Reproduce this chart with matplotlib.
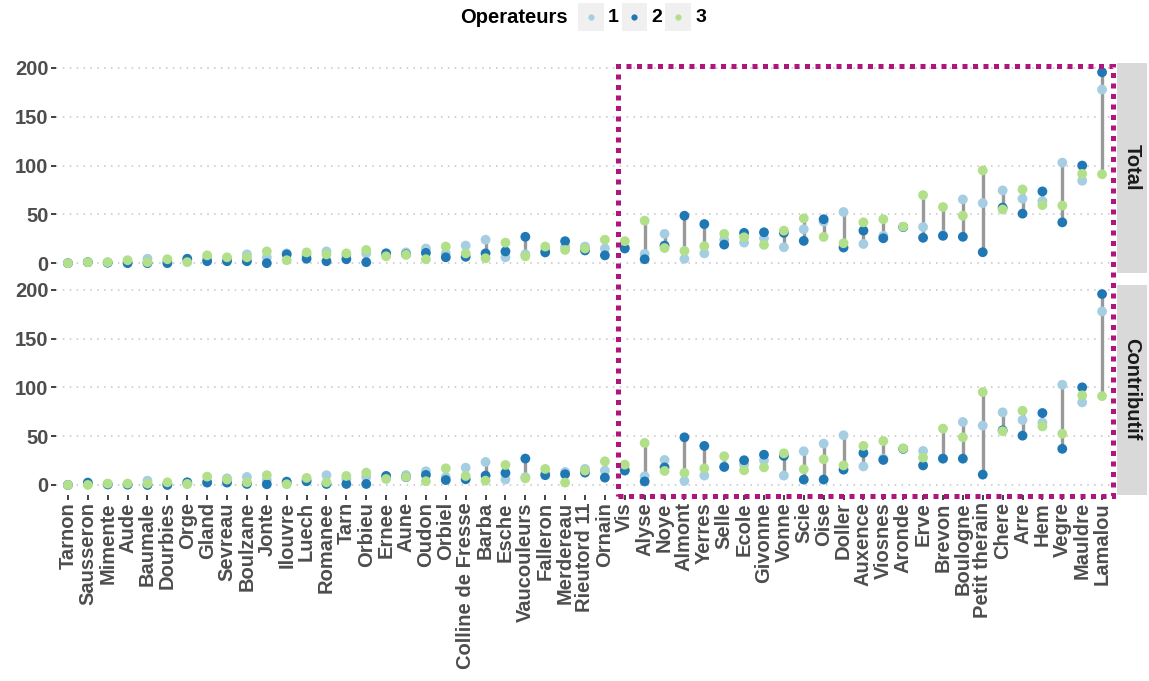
import numpy as np
import matplotlib.pyplot as plt
from matplotlib.patches import Rectangle
from matplotlib.lines import Line2D

plt.rcParams['font.family'] = ['Liberation Sans', 'DejaVu Sans']
plt.rcParams['font.weight'] = 'bold'

rivers = ['Tarnon', 'Sausseron', 'Mimente', 'Aude', 'Baumale', 'Dourbies', 'Orge',
          'Gland', 'Sevreau', 'Boulzane', 'Jonte', 'Ilouvre', 'Luech', 'Romanee',
          'Tarn', 'Orbieu', 'Ernee', 'Aune', 'Oudon', 'Orbiel', 'Colline de Fresse',
          'Barba', 'Esche', 'Vaucouleurs', 'Falleron', 'Merdereau', 'Rieutord 11',
          'Ornain', 'Vis', 'Alyse', 'Noye', 'Almont', 'Yerres', 'Selle', 'Ecole',
          'Givonne', 'Vonne', 'Scie', 'Oise', 'Doller', 'Auxence', 'Viosnes',
          'Aronde', 'Erve', 'Brevon', 'Boulogne', 'Petit therain', 'Chere', 'Arre',
          'Hem', 'Vegre', 'Mauldre', 'Lamalou']

# Total
total_op1 = [0, 1, 0.5, 1, 4.5, 2, 3, 5, 4, 9, 6, 10, 8, 12, 8, 10, 10, 11, 15, 10,
             18, 24, 6, 9, 13, 17, 17, 15, 16, 9.5, 30, 4.4, 10, 24, 21, 25.5, 16.3,
             34.7, 42.5, 52.4, 19.6, 28, 37, 37, 28.6, 65.3, 61.5, 74.5, 66, 63.6,
             103, 84.4, 177.9]
total_op2 = [0, 1, 0.5, 0, 0, 0, 4.5, 2, 2, 2, 0, 9, 4.5, 2, 4, 1, 10, 9, 10.5, 6,
             6.5, 10, 12, 27, 11, 22.5, 13, 8, 15, 4, 18, 48.6, 40, 19, 31, 31.6, 31,
             22.8, 45, 16, 33.3, 25.5, 37, 26, 28, 27, 11.2, 57, 50.7, 73.5, 41.8,
             100, 195.6]
total_op3 = [0, 1, 1, 3, 1, 4, 1, 8, 6, 6, 12, 3, 11, 9, 10, 13.5, 7, 8.5, 4, 17,
             10, 5, 21, 7, 17, 13.5, 15, 24, 22.5, 43.5, 15.5, 12.6, 17.4, 30, 26.5,
             18.7, 33.3, 45.9, 26.9, 20.4, 41.8, 45, 37.4, 69.7, 57.5, 48.6, 95, 55,
             75.5, 59.5, 59, 91.5, 91.1]

# Contributif
contrib_op1 = [0, 1, 1, 0, 4.4, 1, 1, 3, 6.8, 8.2, 5, 2, 5, 10, 6, 8.2, 9, 10.2, 14,
               8, 17.7, 23.5, 5.5, 8, 12, 13.3, 16.4, 14.7, 16, 8.9, 25.6, 4.1, 9.6,
               19, 21, 25.3, 9.6, 34.5, 42.3, 50.9, 19, 27, 37, 34.8, 27, 64.5, 60.8,
               74.4, 66.5, 63.8, 102.7, 84.6, 177.8]
contrib_op2 = [0, 2.4, 0.5, 0.5, 0, 0, 2.7, 2.4, 2.4, 1, 0.7, 3.4, 3.8, 1, 1, 1, 9.2,
               8, 10.2, 5, 5.8, 9.6, 12.3, 27, 10, 11, 12.6, 7.5, 14.7, 3.6, 18, 48.8,
               40, 18.4, 25.3, 31, 29.7, 5.5, 5.5, 15.7, 32.8, 25.6, 37, 20, 27, 26.9,
               10.6, 56, 50.5, 73.7, 37, 100, 195.6]
contrib_op3 = [0, 0, 1.4, 1.4, 1.4, 2.7, 1, 8.5, 5.5, 2.7, 10, 0.7, 7.2, 2.7, 9.2,
               12.6, 6.1, 8.2, 3.8, 17, 9.2, 4.4, 20.5, 6.8, 16.4, 2.4, 14.7, 24.2,
               20.8, 43, 14.3, 12.3, 17, 29.4, 15, 18, 32.4, 16, 26.3, 20, 40, 45,
               37.5, 28, 57.7, 48.8, 95.2, 55, 76, 60, 52.5, 91.8, 91]

operators = ['1', '2', '3']
op_colors = ['#a6cee3', '#1f78b4', '#b2df8a']
facets = [('Total', [total_op1, total_op2, total_op3]),
          ('Contributif', [contrib_op1, contrib_op2, contrib_op3])]

W, H = 1149, 681
fig = plt.figure(figsize=(W / 100, H / 100), dpi=100)


def px_box(x0, y0, x1, y1):
    # pixel box measured from the top-left corner -> figure fraction rect
    return [x0 / W, 1 - y1 / H, (x1 - x0) / W, (y1 - y0) / H]


x = np.arange(len(rivers))
panel_rows = [(62.7, 272.7), (284.5, 494.5)]
axes = []
for (name, series), (top, bot) in zip(facets, panel_rows):
    ax = fig.add_axes(px_box(56, top, 1114, bot))
    vals = np.array(series)
    ax.vlines(x, vals.min(axis=0), vals.max(axis=0), color='#999999',
              linewidth=2.4, zorder=2)
    for v, c, lab in zip(vals, op_colors, operators):
        ax.scatter(x, v, s=50, color=c, edgecolors='none', zorder=3, label=lab)
    ax.set_xlim(-0.6, len(rivers) - 0.4)
    ax.set_ylim(-9.8, 205.4)
    ax.set_yticks([0, 50, 100, 150, 200])
    ax.set_xticks(x)
    ax.set_axisbelow(True)
    ax.yaxis.grid(True, linestyle=(0, (1, 3.5)), color='#c4c4c4', linewidth=1.1)
    ax.xaxis.grid(False)
    for s in ax.spines.values():
        s.set_visible(False)
    ax.tick_params(axis='both', length=3.5, width=1.3, color='#333333',
                   labelcolor='#4d4d4d', labelsize=14.5, pad=2)
    ax.set_yticklabels([0, 50, 100, 150, 200], fontweight='bold')
    if name == 'Total':
        ax.set_xticklabels([])
        ax.tick_params(axis='x', length=0)
    else:
        ax.set_xticklabels(rivers, rotation=90, fontweight='bold')

    # facet strip on the right
    strip = fig.add_axes(px_box(1117, top, 1147, bot))
    strip.set_facecolor('#d9d9d9')
    strip.set_xticks([])
    strip.set_yticks([])
    for s in strip.spines.values():
        s.set_visible(False)
    strip.text(0.5, 0.5, name, rotation=-90, ha='center', va='center',
               fontsize=14.5, fontweight='bold', color='#1a1a1a',
               transform=strip.transAxes)
    axes.append(ax)

# highlighted group of rivers
to_fig = fig.transFigure.inverted()
x0, y0 = to_fig.transform(axes[0].transData.transform((27.67, 202.5)))
x1, _ = to_fig.transform(axes[0].transData.transform((52.55, 0)))
_, y1 = to_fig.transform(axes[1].transData.transform((0, -11.2)))
fig.add_artist(Rectangle((x0, y1), x1 - x0, y0 - y1, transform=fig.transFigure,
                         fill=False, edgecolor='#b0157f', linewidth=3.6,
                         linestyle=(0, (1, 1.1)), zorder=10))

# legend across the top
fig.text(568 / W, 1 - 17.5 / H, 'Operateurs', ha='right', va='center',
         fontsize=14.5, fontweight='bold', color='black')
for i, (lab, c) in enumerate(zip(operators, op_colors)):
    kx = 578 + i * 43.6
    fig.add_artist(Rectangle((kx / W, 1 - 30.7 / H), 25.6 / W, 28 / H,
                             transform=fig.transFigure, facecolor='#f0f0f0',
                             edgecolor='none'))
    fig.add_artist(Line2D([(kx + 12.8) / W], [1 - 16.7 / H], marker='o',
                          markersize=4.5, color=c, markeredgewidth=0,
                          transform=fig.transFigure))
    fig.text((kx + 30) / W, 1 - 17.5 / H, lab, ha='left', va='center',
             fontsize=14, fontweight='bold', color='black')

fig.savefig('out.png', dpi=100)
